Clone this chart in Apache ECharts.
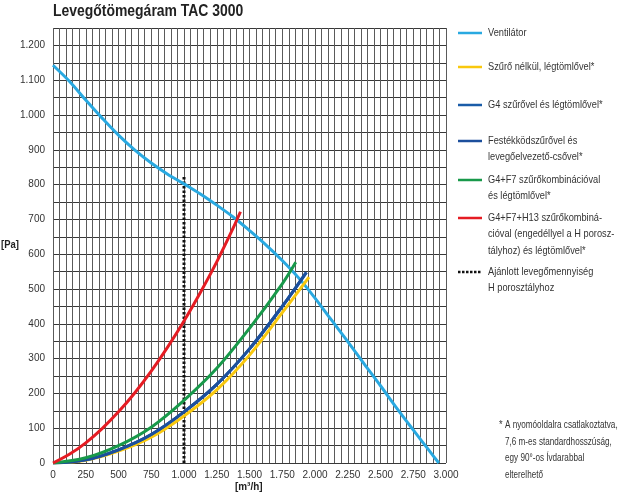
<!DOCTYPE html>
<html><head><meta charset="utf-8">
<script src="https://cdn.jsdelivr.net/npm/echarts@6/dist/echarts.min.js"></script>
<style>html,body{margin:0;padding:0;background:#fff}#c{width:620px;height:496px}</style>
</head><body><div id="c"></div>
<script>
// ---- data ----
const fanFlow = [0,125,250,375,500,625,750,875,1000,1125,1250,1375,1500,1625,1750,1875,2000,2125,2250,2375,2500,2625,2750,2875,2945];
const fanPa   = [1143,1097,1043,991,942,899,862,830,802,773,741,707,668,627,582,532,474,411,349,285,222,157,95,34,0];
const yellowFlow = [0,250,500,750,1000,1250,1500,1750,1954];
const yellowPa   = [0,8,34,74,135,210,310,432,534];
const g4Flow = [0,250,500,750,1000,1250,1500,1750,1934];
const g4Pa   = [0,9,38,82,147,226,328,450,548];
const paintFlow = [0,250,500,750,1000,1250,1500,1750,1934];
const paintPa   = [0,9,38,82,147,226,328,450,548];
const greenFlow = [0,250,500,750,1000,1250,1500,1750,1853];
const greenPa   = [0,15,50,103,180,272,387,515,577];
const redFlow = [0,125,250,375,500,625,750,875,1000,1125,1250,1375,1431];
const redPa   = [0,25,58,99,147,202,264,333,408,490,578,675,722];
const recFlow = [1000,1000];
const recPa   = [0,825];
const seriesNames = [
  'Ventilátor',
  'Szűrő nélkül, légtömlővel*',
  'G4 szűrővel és légtömlővel*',
  'Festékködszűrővel és\nlevegőelvezető-csővel*',
  'G4+F7 szűrőkombinációval\nés légtömlővel*',
  'G4+F7+H13 szűrőkombiná-\ncióval (engedéllyel a H porosz-\ntályhoz) és légtömlővel*',
  'Ajánlott levegőmennyiség\nH porosztályhoz'
];
const seriesColors = ['#29a9e1','#f9c80e','#1a5ca8','#1c4f9c','#18994a','#e51c23','#111111'];
const footnoteMark = '*';
const footnote = 'A nyomóoldalra csatlakoztatva,\n7,6 m-es standardhosszúság,\negy 90°-os Ívdarabbal\nelterelhető';
const titleText = 'Levegőtömegáram TAC 3000';
const xName = '[m³/h]';
const yName = '[Pa]';

// ---- chart ----
const FONT = "'Liberation Sans',Arial,sans-serif";
const zip = (a,b)=>a.map((v,i)=>[v,b[i]]);
const fmt = v => v>=1000 ? Math.floor(v/1000)+'.'+String(v%1000).padStart(3,'0') : String(v);
const flows = [fanFlow,yellowFlow,g4Flow,paintFlow,greenFlow,redFlow,recFlow];
const pas = [fanPa,yellowPa,g4Pa,paintPa,greenPa,redPa,recPa];

const series = seriesNames.map((n,i)=>({
  name:n, type:'line', data: zip(flows[i],pas[i]), showSymbol:false, symbol:'none',
  smooth: i===6 ? false : 0.35,
  lineStyle: i===6 ? {color:seriesColors[i], width:3, type:[2.5,2]} : {color:seriesColors[i], width:3},
  z: i===6 ? 1 : 2+i, animation:false
}));

const SX = 0.84;
const legendY = [33,67,105,141,180,218,272];
const graphic = [
  {type:'text', x:53, y:3, scaleX:0.82, style:{text:titleText, font:"bold 17px "+FONT, fill:'#222'}},
  {type:'text', x:1, y:239, scaleX:0.86, style:{text:yName, font:"bold 11px "+FONT, fill:'#222'}},
  {type:'text', x:235, y:481, scaleX:0.9, style:{text:xName, font:"bold 11px "+FONT, fill:'#222'}},
  {type:'text', x:499, y:417, scaleX:SX, style:{text:footnoteMark, font:"11px "+FONT, fill:'#333', lineHeight:16.5}},
  {type:'text', x:505, y:417, scaleX:0.74, style:{text:footnote, font:"11px "+FONT, fill:'#333', lineHeight:16.5}}
];
seriesNames.forEach((n,i)=>{
  const y = legendY[i];
  graphic.push({type:'line', shape:{x1:458,y1:y,x2:482,y2:y},
    style:{stroke:seriesColors[i], lineWidth:2.5, lineDash: i===6?[2.5,1.5]:null}});
  graphic.push({type:'text', x:488, y:y-8.5, scaleX:SX, style:{text:n, font:"11px "+FONT, fill:'#333', lineHeight:16.5}});
});

const chart = echarts.init(document.getElementById('c'), null, {renderer:'canvas'});
chart.setOption({
  animation:false,
  grid:{left:53, right:174, top:28, bottom:33},
  xAxis:{type:'value', min:0, max:3000, interval:50,
    axisLine:{show:false}, axisTick:{show:false},
    axisLabel:{formatter:v=> v%250===0 ? fmt(v) : '', color:'#333', fontFamily:FONT, fontSize:10, margin:7, showMaxLabel:true, showMinLabel:true},
    splitLine:{show:true, lineStyle:{color:'#5a5a5a', width:1}}},
  yAxis:{type:'value', min:0, max:1250, interval:50,
    axisLine:{show:false}, axisTick:{show:false},
    axisLabel:{formatter:v=> v%100===0 ? fmt(v) : '', color:'#333', fontFamily:FONT, fontSize:10, margin:8},
    splitLine:{show:true, lineStyle:{color:'#383838', width:1}}},
  series: series,
  graphic: graphic
});
</script></body></html>
